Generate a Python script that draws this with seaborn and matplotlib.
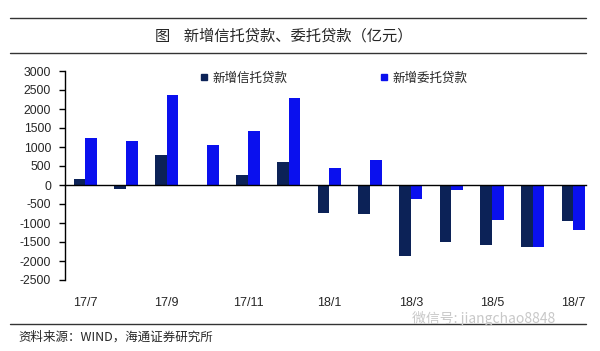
import pandas as pd
import seaborn as sns
import matplotlib.pyplot as plt
from matplotlib.lines import Line2D

months = ["17/7", "17/8", "17/9", "17/10", "17/11", "17/12", "18/1",
          "18/2", "18/3", "18/4", "18/5", "18/6", "18/7"]
trust_loans = [150, -110, 780, -20, 270, 610, -730, -770, -1860, -1490, -1580, -1640, -950]
entrusted_loans = [1240, 1150, 2370, 1040, 1420, 2300, 440, 660, -360, -120, -910, -1640, -1190]
series_names = ["新增信托贷款", "新增委托贷款"]
y_ticks = list(range(-2500, 3001, 500))

NAVY = "#0C2257"
BLUE = "#0A10EE"
CJK = ["Noto Sans CJK SC", "DejaVu Sans"]


def build_df():
    df = pd.DataFrame({
        "month": months * 2,
        "value": trust_loans + entrusted_loans,
        "series": [series_names[0]] * len(months) + [series_names[1]] * len(months),
    })
    return df


def main():
    sns.set_style("white")
    plt.rcParams["font.family"] = ["Liberation Sans", "Noto Sans CJK SC"]

    df = build_df()
    fig = plt.figure(figsize=(6, 3.51), dpi=100)
    ax = fig.add_axes([65 / 600, 1 - 280 / 351, 520.6 / 600, 209 / 351])

    sns.barplot(data=df, x="month", y="value", hue="series", order=months,
                hue_order=series_names, palette=[NAVY, BLUE], width=0.575,
                saturation=1, linewidth=0, ax=ax, legend=False)

    ax.set_xlim(-0.5, 12.3)
    ax.set_ylim(-2500, 3000)
    ax.set_yticks(y_ticks)
    ax.set_yticklabels([str(v) for v in y_ticks])
    ax.set_xlabel("")
    ax.set_ylabel("")

    # month labels every 2 months, tick marks between groups on the zero line
    ax.set_xticks(range(0, len(months), 2))
    ax.set_xticklabels(months[::2])
    ax.set_xticks([i + 0.5 for i in range(1, len(months) - 1, 2)], minor=True)
    ax.tick_params(axis="x", which="major", length=0, pad=81, labelsize=9)
    ax.tick_params(axis="x", which="minor", length=4, width=1, direction="out", color="black")
    ax.tick_params(axis="y", length=4, width=1, direction="out", color="black",
                   pad=6, labelsize=8.8, left=True)

    for s in ["top", "right"]:
        ax.spines[s].set_visible(False)
    ax.spines["bottom"].set_position(("data", 0))
    ax.spines["bottom"].set_color("black")
    ax.spines["left"].set_color("black")
    ax.spines["bottom"].set_linewidth(1)
    ax.spines["left"].set_linewidth(1)

    handles = [Line2D([], [], marker="s", linestyle="", markersize=5,
                      color=c) for c in (NAVY, BLUE)]
    fig.legend(handles, series_names, loc="center left", ncol=2,
               bbox_to_anchor=(200 / 600, 1 - 78 / 351), frameon=False,
               prop={"family": CJK, "size": 9}, handlelength=0.6,
               handletextpad=0.4, columnspacing=7.4, borderpad=0,
               borderaxespad=0)

    # header / footer
    for y in (18, 53, 324):
        fig.add_artist(Line2D([10 / 600, 586 / 600], [1 - y / 351] * 2,
                              color="#333333", lw=1))
    fig.text(155 / 600, 1 - 36 / 351, "图    新增信托贷款、委托贷款（亿元）",
             family=CJK, fontsize=11, va="center", ha="left")
    fig.text(18 / 600, 1 - 337 / 351, "资料来源：WIND，海通证券研究所",
             family=CJK, fontsize=9, va="center", ha="left")
    fig.text(412 / 600, 1 - 319 / 351, "微信号: jiangchao8848",
             family=CJK, fontsize=10, va="center", ha="left", color="#c8c8c8")

    fig.savefig("out.png", dpi=100)


if __name__ == "__main__":
    main()
